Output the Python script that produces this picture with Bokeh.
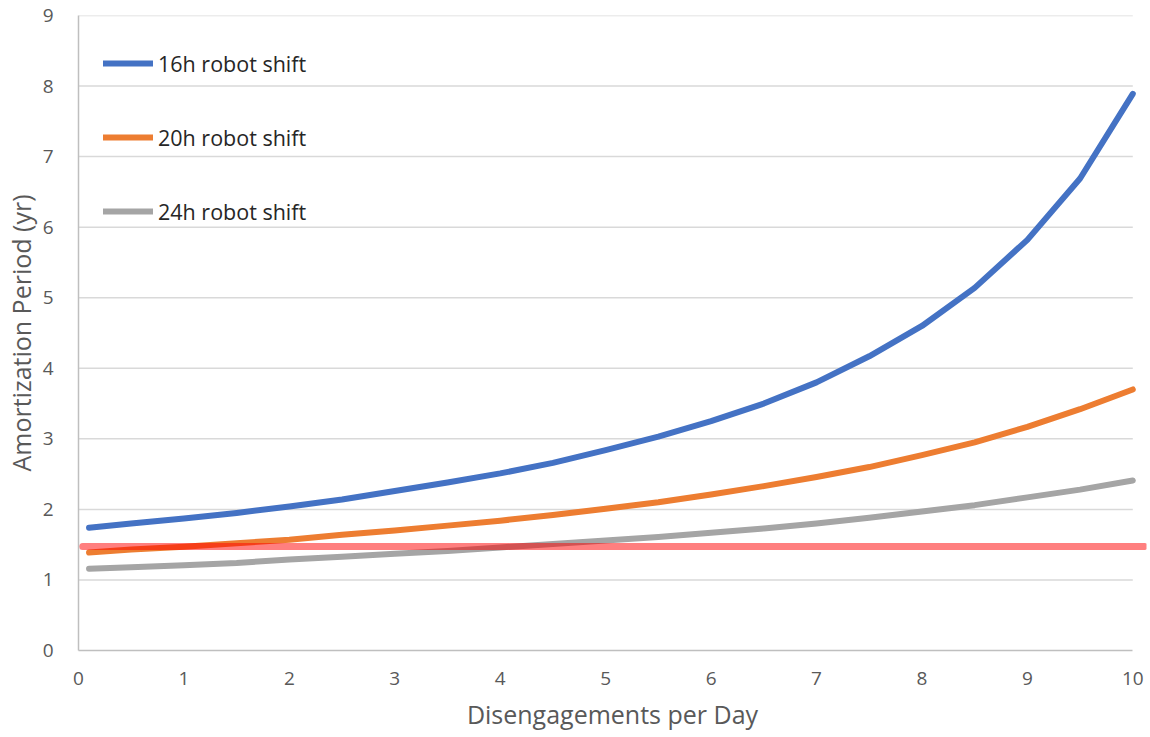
from bokeh.plotting import figure
from bokeh.models import Legend, LegendItem, FixedTicker
from bokeh.embed import file_html
from bokeh.resources import INLINE

# ---- data ----
disengagements = [0.1, 0.5, 1.0, 1.5, 2.0, 2.5, 3.0, 3.5, 4.0, 4.5, 5.0,
                  5.5, 6.0, 6.5, 7.0, 7.5, 8.0, 8.5, 9.0, 9.5, 10.0]
shift_16h = [1.74, 1.80, 1.87, 1.95, 2.04, 2.14, 2.26, 2.38, 2.51, 2.66, 2.84,
             3.03, 3.25, 3.50, 3.80, 4.17, 4.60, 5.14, 5.82, 6.69, 7.89]
shift_20h = [1.39, 1.43, 1.47, 1.52, 1.57, 1.64, 1.70, 1.77, 1.84, 1.92, 2.01,
             2.10, 2.21, 2.33, 2.46, 2.60, 2.77, 2.95, 3.17, 3.42, 3.70]
shift_24h = [1.16, 1.18, 1.21, 1.24, 1.29, 1.33, 1.37, 1.41, 1.46, 1.51, 1.56,
             1.61, 1.67, 1.73, 1.80, 1.88, 1.97, 2.06, 2.17, 2.28, 2.41]
threshold_x = [0.04, 10.11]
threshold_y = [1.475, 1.475]
series_names = ["16h robot shift", "20h robot shift", "24h robot shift"]
series_colors = ["#4472C4", "#ED7D31", "#A5A5A5"]
x_ticks = list(range(0, 11))
y_ticks = list(range(0, 10))

FONT = "Open Sans"
TXT = "#595959"

p = figure(width=1142, height=726, x_range=(0, 10.13), y_range=(0, 9),
           output_backend="svg", toolbar_location=None,
           frame_width=1068, frame_height=635,
           min_border_left=71, min_border_top=15, min_border_right=3,
           min_border_bottom=0)
p.outline_line_color = None
p.background_fill_color = "white"
p.border_fill_color = "white"

# grid lines drawn only over 0..10
p.xgrid.visible = False
p.ygrid.visible = False
p.segment(x0=[0] * len(y_ticks[1:]), x1=[10] * len(y_ticks[1:]),
          y0=y_ticks[1:], y1=y_ticks[1:], line_color="#D9D9D9", line_width=1.5)

# axes
p.xaxis.ticker = FixedTicker(ticks=x_ticks)
p.yaxis.ticker = FixedTicker(ticks=y_ticks)
p.xaxis.bounds = (0, 10)
for ax in (p.xaxis[0], p.yaxis[0]):
    ax.axis_line_color = "#BFBFBF"
    ax.axis_line_width = 1.5
    ax.major_tick_line_color = None
    ax.minor_tick_line_color = None
    ax.major_label_text_font = FONT
    ax.major_label_text_font_size = "19px"
    ax.major_label_text_color = TXT
    ax.axis_label_text_font = FONT
    ax.axis_label_text_font_size = "25px"
    ax.axis_label_text_font_style = "normal"
    ax.axis_label_text_color = TXT
p.xaxis.axis_label = "Disengagements per Day"
p.yaxis.axis_label = "Amortization Period (yr)"
p.xaxis.major_label_standoff = 15
p.yaxis.major_label_standoff = 19
p.xaxis.axis_label_standoff = 9
p.yaxis.axis_label_standoff = 2

renderers = []
for ys, c in zip([shift_16h, shift_20h, shift_24h], series_colors):
    r = p.line(disengagements, ys, line_color=c, line_width=6, line_cap="round",
               line_join="round")
    renderers.append(r)

p.line(threshold_x, threshold_y, line_color="#FF0000", line_alpha=0.5,
       line_width=7, line_cap="round")

legend = Legend(items=[LegendItem(label=n, renderers=[r])
                       for n, r in zip(series_names, renderers)],
                location="top_left", margin=25, padding=16,
                glyph_width=50, glyph_height=46, label_height=46,
                spacing=28, label_standoff=5,
                background_fill_alpha=0, border_line_color=None,
                label_text_font=FONT, label_text_font_size="21.5px",
                label_text_color="#262626")
p.add_layout(legend, "center")

open("out.html", "w").write(file_html(p, INLINE))
